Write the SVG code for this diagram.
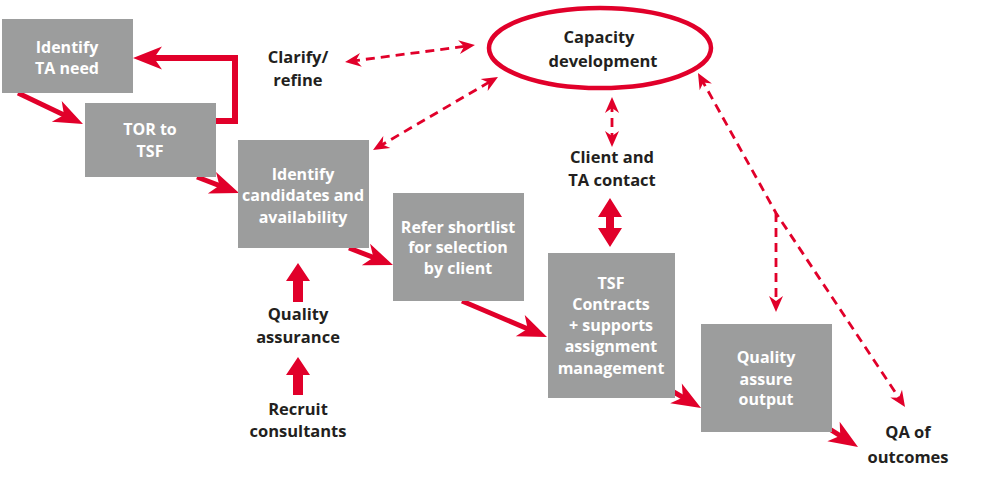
<svg xmlns="http://www.w3.org/2000/svg" width="995" height="488" viewBox="0 0 995 488">
<style>
.box{fill:#9c9d9d}
.wt{fill:#ffffff;font-family:"Open Sans",Lato,sans-serif;font-weight:700;font-size:16px;text-anchor:middle}
.bt{fill:#231f20;font-family:"Open Sans",Lato,sans-serif;font-weight:700;font-size:16.5px;text-anchor:middle}
.solid{fill:none;stroke:#e1002a;stroke-width:5;marker-end:url(#sh)}
.dash{fill:none;stroke:#e1002a;stroke-width:2.8;stroke-dasharray:9 6}
.red{fill:#e1002a}
</style>
<defs>
<marker id="sh" viewBox="-30 -13 32 26" refX="-18" refY="0" markerWidth="32" markerHeight="26" markerUnits="userSpaceOnUse" orient="auto">
<path d="M0,0 L-29,-11.5 L-21,0 L-29,11.5 Z" fill="#e1002a"/>
</marker>
<marker id="dh" viewBox="-17 -8 18 16" refX="-6" refY="0" markerWidth="18" markerHeight="16" markerUnits="userSpaceOnUse" orient="auto-start-reverse">
<path d="M0,0 L-16,-7 L-11,0 L-16,7 Z" fill="#e1002a"/>
</marker>
</defs>

<g id="connectors">
<line class="solid" x1="18" y1="93" x2="66.7" y2="116.2"/>
<line class="solid" x1="197" y1="177" x2="222.2" y2="186.6"/>
<line class="solid" x1="349" y1="248" x2="376.2" y2="258.5"/>
<line class="solid" x1="462" y1="301" x2="530.4" y2="330"/>
<line class="solid" x1="672" y1="391" x2="685.5" y2="398.9"/>
<line class="solid" x1="828" y1="428" x2="842.8" y2="437.4"/>
<polyline class="solid" style="stroke-width:6" points="216,121 235,121 235,58 151,58"/>
<polygon class="red" points="293,302 303,302 303,281 310,281 298,263 286,281 293,281"/>
<polygon class="red" points="293,395 303,395 303,375 310,375 298,357 286,375 293,375"/>
<polygon class="red" points="606,217 614,217 614,228 622,228 610,247 598,228 606,228 606,217 598,217 610,198 622,217 614,217"/>
<line class="dash" x1="351" y1="61.2" x2="469" y2="45.8" marker-start="url(#dh)" marker-end="url(#dh)"/>
<line class="dash" x1="378.2" y1="147" x2="492.8" y2="80" marker-start="url(#dh)" marker-end="url(#dh)"/>
<line class="dash" x1="612" y1="103" x2="612" y2="141" stroke-dasharray="7 5" marker-start="url(#dh)" marker-end="url(#dh)"/>
<polyline class="dash" points="700.9,78.2 776,213 901.7,402" marker-start="url(#dh)" marker-end="url(#dh)"/>
<line class="dash" x1="776" y1="213" x2="776" y2="306" marker-end="url(#dh)"/>
</g>

<g id="capacity">
<ellipse cx="600" cy="48" rx="111" ry="40" fill="#ffffff" stroke="#e1002a" stroke-width="4.5"/>
<text class="bt" x="599" y="43">Capacity</text>
<text class="bt" x="603" y="67">development</text>
</g>

<g id="identify-ta">
<rect class="box" x="2" y="19" width="131" height="74"/>
<text class="wt" x="67" y="53">Identify</text>
<text class="wt" x="67" y="74">TA need</text>
</g>

<g id="tor">
<rect class="box" x="85" y="103" width="131" height="74"/>
<text class="wt" x="150" y="135">TOR to</text>
<text class="wt" x="150" y="157">TSF</text>
</g>

<g id="identify-candidates">
<rect class="box" x="238" y="140" width="131" height="108"/>
<text class="wt" x="303" y="180">Identify</text>
<text class="wt" x="303" y="201">candidates and</text>
<text class="wt" x="303" y="223">availability</text>
</g>

<g id="refer">
<rect class="box" x="393" y="193" width="131" height="108"/>
<text class="wt" x="458" y="233">Refer shortlist</text>
<text class="wt" x="458" y="253">for selection</text>
<text class="wt" x="458" y="274">by client</text>
</g>

<g id="tsf">
<rect class="box" x="548" y="253" width="127" height="145"/>
<text class="wt" x="611" y="289">TSF</text>
<text class="wt" x="611" y="310">Contracts</text>
<text class="wt" x="611" y="331">+ supports</text>
<text class="wt" x="611" y="352">assignment</text>
<text class="wt" x="611" y="374">management</text>
</g>

<g id="qa-output">
<rect class="box" x="701" y="324" width="131" height="108"/>
<text class="wt" x="766" y="363">Quality</text>
<text class="wt" x="766" y="385">assure</text>
<text class="wt" x="766" y="405">output</text>
</g>

<g id="clarify">
<text class="bt" x="298" y="63">Clarify/</text>
<text class="bt" x="298" y="86">refine</text>
</g>

<g id="client-contact">
<text class="bt" x="612" y="163">Client and</text>
<text class="bt" x="612" y="186">TA contact</text>
</g>

<g id="quality-assurance">
<text class="bt" x="298" y="320">Quality</text>
<text class="bt" x="298" y="343">assurance</text>
</g>

<g id="recruit">
<text class="bt" x="298" y="415">Recruit</text>
<text class="bt" x="298" y="437">consultants</text>
</g>

<g id="qa-outcomes">
<text class="bt" x="908" y="438">QA of</text>
<text class="bt" x="908" y="463">outcomes</text>
</g>
</svg>
